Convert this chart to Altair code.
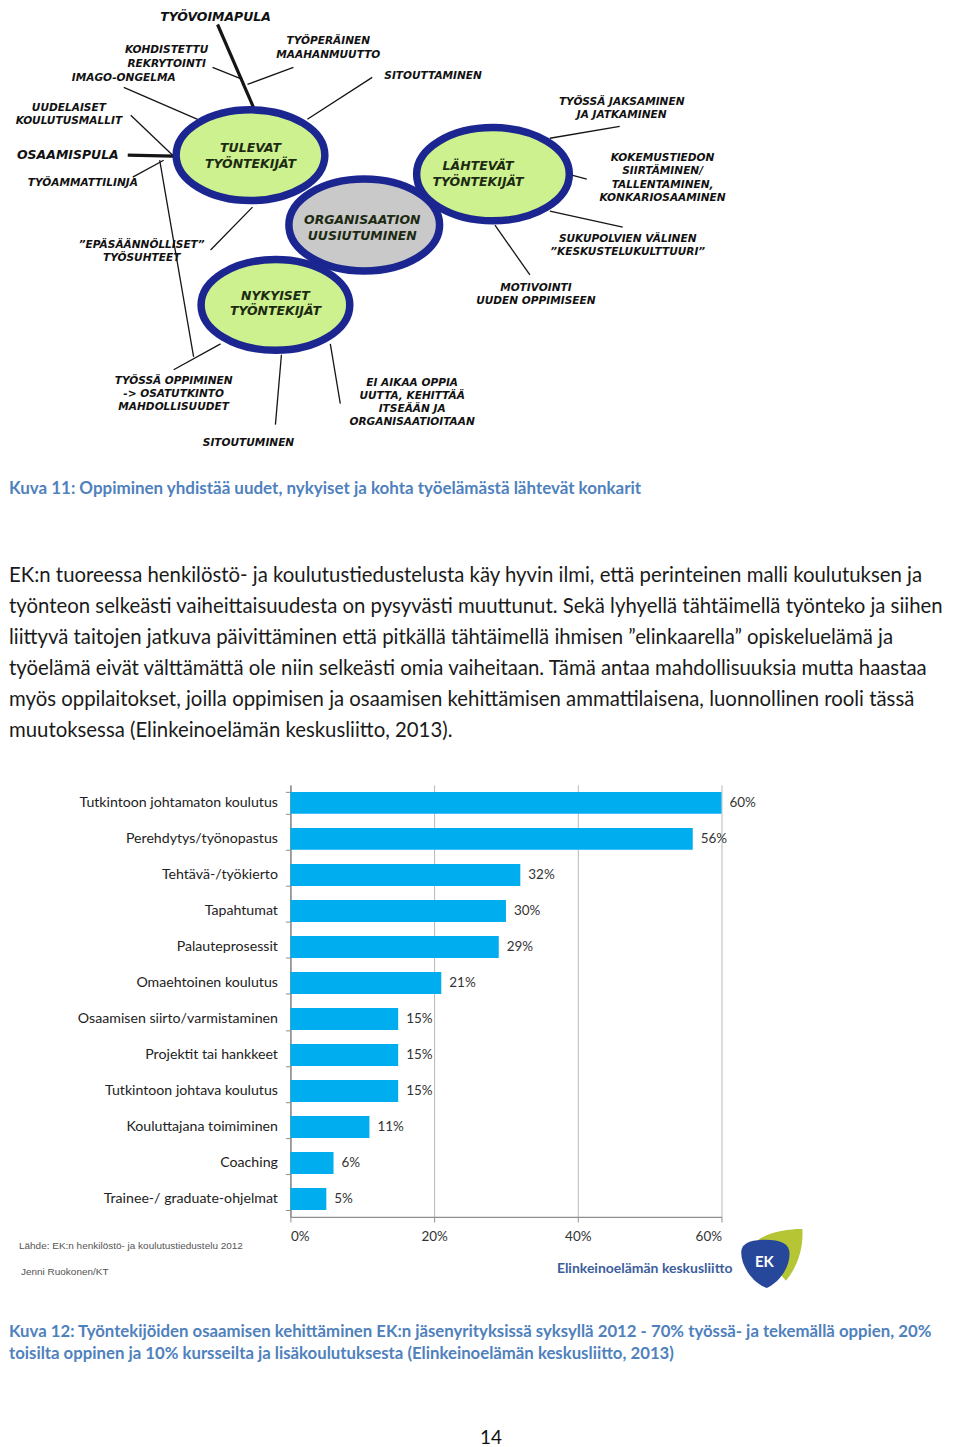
import altair as alt
import pandas as pd

# ---------------- bar chart (Kuva 12) ----------------
categories = [
    "Tutkintoon johtamaton koulutus", "Perehdytys/työnopastus", "Tehtävä-/työkierto",
    "Tapahtumat", "Palauteprosessit", "Omaehtoinen koulutus",
    "Osaamisen siirto/varmistaminen", "Projektit tai hankkeet", "Tutkintoon johtava koulutus",
    "Kouluttajana toimiminen", "Coaching", "Trainee-/ graduate-ohjelmat",
]
values = [60, 56, 32, 30, 29, 21, 15, 15, 15, 11, 6, 5]
x_ticks = [0, 20, 40, 60]

# ---------------- diagram (Kuva 11) texts ----------------
hub_lines = [["TULEVAT", "TYÖNTEKIJÄT"], ["LÄHTEVÄT", "TYÖNTEKIJÄT"],
             ["ORGANISAATION", "UUSIUTUMINEN"], ["NYKYISET", "TYÖNTEKIJÄT"]]
hub_kind = ["green", "green", "grey", "green"]
factor_lines = [
    ["TYÖVOIMAPULA"], ["KOHDISTETTU", "REKRYTOINTI"], ["IMAGO-ONGELMA"],
    ["TYÖPERÄINEN", "MAAHANMUUTTO"], ["SITOUTTAMINEN"], ["UUDELAISET", "KOULUTUSMALLIT"],
    ["OSAAMISPULA"], ["TYÖAMMATTILINJA"], ["”EPÄSÄÄNNÖLLISET”", "TYÖSUHTEET"],
    ["TYÖSSÄ OPPIMINEN", "-> OSATUTKINTO", "MAHDOLLISUUDET"], ["SITOUTUMINEN"],
    ["EI AIKAA OPPIA", "UUTTA, KEHITTÄÄ", "ITSEÄÄN JA", "ORGANISAATIOITAAN"],
    ["TYÖSSÄ JAKSAMINEN", "JA JATKAMINEN"],
    ["KOKEMUSTIEDON", "SIIRTÄMINEN/", "TALLENTAMINEN,", "KONKARIOSAAMINEN"],
    ["SUKUPOLVIEN VÄLINEN", "”KESKUSTELUKULTTUURI”"], ["MOTIVOINTI", "UUDEN OPPIMISEEN"],
]
main_factor = [True, False, False, False, False, False, True, False, False, False,
               False, False, False, False, False, False]

paragraph = [
    "EK:n tuoreessa henkilöstö- ja koulutustiedustelusta käy hyvin ilmi, että perinteinen malli koulutuksen ja",
    "työnteon selkeästi vaiheittaisuudesta on pysyvästi muuttunut. Sekä lyhyellä tähtäimellä työnteko ja siihen",
    "liittyvä taitojen jatkuva päivittäminen että pitkällä tähtäimellä ihmisen ”elinkaarella” opiskeluelämä ja",
    "työelämä eivät välttämättä ole niin selkeästi omia vaiheitaan. Tämä antaa mahdollisuuksia mutta haastaa",
    "myös oppilaitokset, joilla oppimisen ja osaamisen kehittämisen ammattilaisena, luonnollinen rooli tässä",
    "muutoksessa (Elinkeinoelämän keskusliitto, 2013).",
]
caption11 = ["Kuva 11: Oppiminen yhdistää uudet, nykyiset ja kohta työelämästä lähtevät konkarit"]
caption12 = [
    "Kuva 12: Työntekijöiden osaamisen kehittäminen EK:n jäsenyrityksissä syksyllä 2012 - 70% työssä- ja tekemällä oppien, 20%",
    "toisilta oppinen ja 10% kursseilta ja lisäkoulutuksesta (Elinkeinoelämän keskusliitto, 2013)",
]
source_notes = ["Lähde: EK:n henkilöstö- ja koulutustiedustelu  2012", "Jenni Ruokonen/KT"]
logo_text = ["Elinkeinoelämän keskusliitto", "EK"]
page_number = ["14"]

# ---------------- layout (page pixel positions) ----------------
hub_cx = [250, 493, 364, 275]
hub_cy = [153, 172, 223, 303]
hub_rx = [74.5, 76.5, 75.5, 74.5]
hub_tx = [250, 478, 362, 275]
hub_ty = [146, 164, 218, 294]
factor_x = [215, 166, 123, 328, 433, 68, 67, 82, 141, 173, 248, 412, 622, 663, 628, 536]
factor_y = [14.5, 48, 76, 39, 74, 106, 153, 181, 243, 379, 441, 381, 100, 156, 237, 286]
link_x1 = [217, 127, 212, 293, 372, 123, 130, 132, 159, 173, 210, 275, 340, 620, 572, 550, 495]
link_y1 = [22, 153, 65, 65, 75, 85, 113, 175, 158, 368, 248, 423, 402, 124, 173, 209, 223]
link_x2 = [253, 173, 242, 247, 307, 197, 172, 163, 193, 220, 252, 281, 330, 550, 587, 623, 530]
link_y2 = [105, 154, 77, 82, 117, 117, 153, 158, 355, 342, 205, 353, 342, 136, 177, 225, 273]
link_thick = [True, True] + [False] * 15

ELLIPSE = ("M-1,0 C-1,-0.337 -0.552,-0.61 0,-0.61 C0.552,-0.61 1,-0.337 1,0 "
           "C1,0.337 0.552,0.61 0,0.61 C-0.552,0.61 -1,0.337 -1,0 Z")
SHIELD = ("M-0.95,-0.45 C-0.95,-0.85 -0.5,-0.95 0,-0.95 C0.6,-0.95 0.95,-0.8 0.95,-0.4 "
          "C0.95,0.2 0.5,0.75 0.05,0.95 C-0.5,0.75 -0.95,0.1 -0.95,-0.45 Z")
LEAF = ("M-0.9,-0.35 C-0.5,-0.8 0.3,-0.95 0.95,-0.95 C1,-0.3 0.8,0.4 0.35,0.95 "
        "C0,0.5 -0.6,0.1 -0.9,-0.35 Z")

GREEN = "#ccf18e"
GREY = "#c9c9c9"
NAVY = "#1b2690"
CAP_BLUE = "#4f81bd"
DIAG_FONT = "DejaVu Sans"
BODY_FONT = "Lato"

# page-pixel scales: the plot area is the bar chart area (page y 784..1217)
PX = alt.Scale(domain=[8, 952], nice=False, zero=False)
PY = alt.Scale(domain=[784, 1217], nice=False, zero=False, reverse=True)


def XP(f="x:Q"):
    return alt.X(f, scale=PX, axis=None)


def YP(f="y:Q"):
    return alt.Y(f, scale=PY, axis=None)


# page frame anchor (white, invisible) so that the page top sits at y = 8
frame = alt.Chart(pd.DataFrame({"x": [8], "x2": [952], "y": [8]})).mark_rule(
    color="white", strokeWidth=0.5).encode(x=XP(), x2="x2:Q", y=YP())

links = pd.DataFrame({"x": link_x1, "y": link_y1, "x2": link_x2, "y2": link_y2,
                      "w": [3.2 if t else 1.3 for t in link_thick]})
links_layer = alt.Chart(links).mark_rule(color="#151515").encode(
    x=XP(), y=YP(), x2="x2:Q", y2="y2:Q", strokeWidth=alt.StrokeWidth("w:Q", scale=None),
)

hubs = pd.DataFrame({"x": hub_cx, "y": hub_cy,
                     "size": [(2 * r) ** 2 for r in hub_rx],
                     "fill": [GREEN if k == "green" else GREY for k in hub_kind],
                     "order": [0, 1, 2, 3]})
hub_layer = alt.Chart(hubs).mark_point(
    shape=ELLIPSE, filled=True, stroke=NAVY, strokeWidth=7.5, opacity=1, fillOpacity=1
).encode(
    x=XP(), y=YP(),
    size=alt.Size("size:Q", scale=None, legend=None),
    fill=alt.Fill("fill:N", scale=None, legend=None),
    order="order:Q",
)

rows = []
for lines, tx, ty in zip(hub_lines, hub_tx, hub_ty):
    for i, t in enumerate(lines):
        rows.append({"x": tx, "y": ty + 15.5 * i, "t": t})
hub_text = alt.Chart(pd.DataFrame(rows)).mark_text(
    font=DIAG_FONT, fontWeight="bold", fontStyle="italic", fontSize=12.5,
    color="#1d2a12", baseline="middle", align="center"
).encode(x=XP(), y=YP(), text="t:N")

rows = []
for lines, fx, fy, big in zip(factor_lines, factor_x, factor_y, main_factor):
    for i, t in enumerate(lines):
        rows.append({"x": fx, "y": fy + 13.2 * i, "t": t, "s": 12.5 if big else 10.6})
factor_text = alt.Chart(pd.DataFrame(rows)).mark_text(
    font=DIAG_FONT, fontWeight="bold", fontStyle="italic",
    color="#111111", baseline="middle", align="center"
).encode(x=XP(), y=YP(), text="t:N", size=alt.Size("s:Q", scale=None, legend=None))

cap1 = alt.Chart(pd.DataFrame({"t": caption11, "x": [8], "y": [488]})).mark_text(
    font=BODY_FONT, fontWeight="bold", fontSize=17, color=CAP_BLUE,
    align="left", baseline="middle"
).encode(x=XP(), y=YP(), text="t:N")

para = alt.Chart(pd.DataFrame({"t": paragraph, "x": [8] * 6,
                               "y": [575 + 31 * i for i in range(6)]})).mark_text(
    font=BODY_FONT, fontSize=20.4, color="#1a1a1a", align="left", baseline="middle"
).encode(x=XP(), y=YP(), text="t:N")

notes = alt.Chart(pd.DataFrame({"t": source_notes, "x": [18, 20], "y": [1246, 1272]})).mark_text(
    font="Liberation Sans", fontSize=10, color="#555555", align="left", baseline="middle"
).encode(x=XP(), y=YP(), text="t:N")

logo_shapes = pd.DataFrame({"x": [777, 766], "y": [1255, 1264], "size": [3000, 2600],
                            "fill": ["#b5c534", "#27489a"], "shape": [LEAF, SHIELD],
                            "order": [0, 1]})
logo_layer = alt.Chart(logo_shapes).mark_point(filled=True, opacity=1, strokeWidth=0).encode(
    x=XP(), y=YP(),
    size=alt.Size("size:Q", scale=None, legend=None),
    fill=alt.Fill("fill:N", scale=None, legend=None),
    shape=alt.Shape("shape:N", scale=None, legend=None),
    order="order:Q",
)
logo_words = alt.Chart(pd.DataFrame({"t": logo_text, "x": [645, 765], "y": [1269, 1262],
                                     "c": ["#3c5d9c", "#ffffff"], "s": [14, 15]})).mark_text(
    font=BODY_FONT, fontWeight="bold", baseline="middle", align="center"
).encode(x=XP(), y=YP(), text="t:N",
         color=alt.Color("c:N", scale=None, legend=None),
         size=alt.Size("s:Q", scale=None, legend=None))

cap2 = alt.Chart(pd.DataFrame({"t": caption12, "x": [8, 8], "y": [1332, 1354]})).mark_text(
    font=BODY_FONT, fontWeight="bold", fontSize=16.8, color=CAP_BLUE,
    align="left", baseline="middle"
).encode(x=XP(), y=YP(), text="t:N")

pnum = alt.Chart(pd.DataFrame({"t": page_number, "x": [491], "y": [1439]})).mark_text(
    font=BODY_FONT, fontSize=19, color="#111111", align="center", baseline="middle"
).encode(x=XP(), y=YP(), text="t:N")

page_layers = alt.layer(frame, links_layer, hub_layer, hub_text, factor_text, cap1, para,
                        notes, logo_layer, logo_words, cap2, pnum)

# ---------------- bar chart layers ----------------
bars_df = pd.DataFrame({"cat": categories, "val": values,
                        "lab": [f"{v}%" for v in values]})
xs = alt.Scale(domain=[0, 60], range=[282, 714], nice=False)
ys = alt.Scale(domain=categories, paddingInner=0.39, paddingOuter=0.195)
bars = alt.Chart(bars_df).mark_bar(color="#00aeef").encode(
    x=alt.X("val:Q", scale=xs, axis=alt.Axis(
        values=x_ticks, labelExpr="datum.value + '%'", title=None, grid=True,
        gridColor="#b8b8b8", gridWidth=1, domainColor="#8f8f8f", domainWidth=1.3,
        tickColor="#8f8f8f", tickSize=5, labelPadding=8, labelFont=BODY_FONT,
        labelFontSize=13.5, labelColor="#333333")),
    y=alt.Y("cat:N", sort=categories, scale=ys, axis=alt.Axis(
        offset=-282, title=None, tickBand="extent", tickSize=5, tickColor="#8f8f8f",
        domainColor="#8f8f8f", domainWidth=1.6, labelPadding=8, labelFont=BODY_FONT,
        labelFontSize=14.2, labelColor="#222222", labelLimit=0)),
)
bar_labels = alt.Chart(bars_df).mark_text(
    align="left", baseline="middle", dx=8, font=BODY_FONT, fontSize=13.5, color="#333333"
).encode(x=alt.X("val:Q", scale=xs), y=alt.Y("cat:N", sort=categories, scale=ys), text="lab:N")

bar_layers = alt.layer(bars, bar_labels)

chart = alt.layer(bar_layers, page_layers).resolve_scale(
    x="independent", y="independent"
).properties(width=944, height=433, padding=0, background="white").configure_view(stroke=None)

chart.save("out.html", embed_options={"renderer": "svg", "actions": False})
